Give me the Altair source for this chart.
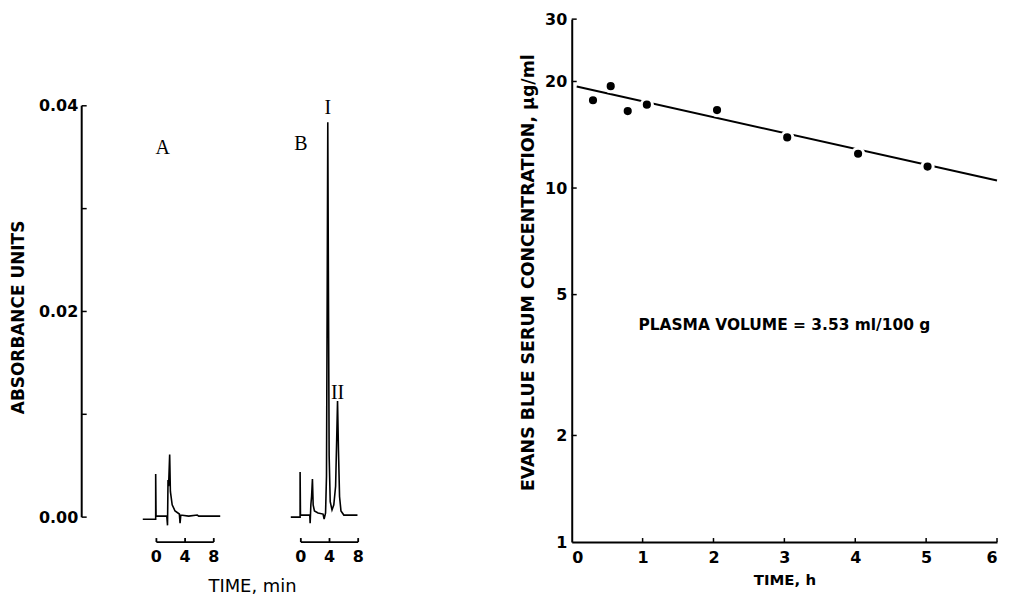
import altair as alt
import pandas as pd

# ---------------- Left panel: chromatograms (time in min, absorbance units) ----------------
tA = [-1.9, -0.1, -0.1, -0.05, 1.45, 1.55, 1.62, 1.7, 1.85, 1.95, 2.2, 2.6, 3.2, 3.3, 3.4, 4.5, 5.7, 5.9, 8.9]
absA = [-0.0002, -0.0002, 0.0042, 0.0001, 0.0001, -0.0008, 0.0036, 0.0030, 0.0061, 0.0025, 0.0012,
        0.0006, 0.0003, -0.0006, 0.0002, 0.0001, 0.0002, 0.0001, 0.0001]
tB = [-1.4, -0.1, -0.1, -0.05, 1.25, 1.3, 1.4, 1.5, 1.62, 1.72, 1.9, 2.4, 3.1, 3.25, 3.45, 3.58, 3.68,
      3.76, 3.84, 3.95, 4.1, 4.35, 4.6, 4.85, 5.0, 5.12, 5.25, 5.4, 5.6, 6.0, 7.9]
absB = [0.0, 0.0, 0.0044, 0.0002, 0.0002, -0.0006, 0.0012, 0.0020, 0.0037, 0.0012, 0.0006, 0.0004,
        0.0003, -0.0002, 0.0004, 0.004, 0.022, 0.0384, 0.024, 0.006, 0.0015, 0.0007, 0.0012, 0.003,
        0.0075, 0.0113, 0.0065, 0.002, 0.0006, 0.0002, 0.0002]
abs_ticks = [0.0, 0.01, 0.02, 0.03, 0.04]
abs_tick_labels = [0.0, 0.02, 0.04]
min_ticks = [0, 4, 8]
peak_text = ["A", "B", "I", "II"]
peak_panel = ["A", "B", "B", "B"]
peak_t = [0.86, 0.0, 3.76, 5.12]
peak_abs = [0.0359, 0.0363, 0.0398, 0.0121]

# ---------------- Right panel: Evans blue serum concentration ----------------
time_h = [0.30, 0.55, 0.79, 1.06, 2.05, 3.04, 4.04, 5.02]
conc = [17.7, 19.4, 16.5, 17.2, 16.6, 13.9, 12.5, 11.5]
fit_t = [0.07, 6.0]
fit_c = [19.35, 10.5]
h_ticks = [0, 1, 2, 3, 4, 5, 6]
c_ticks = [1, 2, 5, 10, 20, 30]
note = "PLASMA  VOLUME = 3.53 ml/100 g"
note_t, note_c = 3.0, 4.1

# ---------------- layout helpers ----------------
FONT = "DejaVu Sans"
SERIF = "Liberation Serif"
LW, LH = 295, 525
PX_MIN = 7.2
PX_ABS = 10325.0
X_MIN = -75 / PX_MIN
X_MAX = X_MIN + LW / PX_MIN
Y_MIN = -25 / PX_ABS
Y_MAX = 0.04 + 87 / PX_ABS
offset = {"A": 0.0, "B": 145 / PX_MIN}
MINI_TICK = 4 / PX_ABS

rows = []
for p, ts, vs in (("A", tA, absA), ("B", tB, absB)):
    for i, (t, v) in enumerate(zip(ts, vs)):
        rows.append({"panel": p, "idx": i, "pos": t + offset[p], "abs": v})
trace_df = pd.DataFrame(rows)

yaxis_df = pd.DataFrame({"abs": [min(abs_ticks)], "abs2": [max(abs_ticks)]})
ytick_df = pd.DataFrame({"abs": abs_ticks})
mini_axis_df = pd.DataFrame({"pos": [min(min_ticks) + offset[p] for p in "AB"],
                             "pos2": [max(min_ticks) + offset[p] for p in "AB"],
                             "abs": [Y_MIN, Y_MIN]})
mini_tick_df = pd.DataFrame({"pos": [t + offset[p] for p in "AB" for t in min_ticks],
                             "lab": [str(t) for p in "AB" for t in min_ticks],
                             "abs": [Y_MIN] * 6, "abs2": [Y_MIN + MINI_TICK] * 6})
peak_df = pd.DataFrame({"pos": [t + offset[p] for t, p in zip(peak_t, peak_panel)],
                        "abs": peak_abs, "txt": peak_text})

xs = alt.Scale(domain=[X_MIN, X_MAX], nice=False, zero=False)
ys = alt.Scale(domain=[Y_MIN, Y_MAX], nice=False, zero=False)
xaxis = alt.Axis(labels=False, ticks=False, domain=False, grid=False, title="TIME, min",
                 titleFontWeight="normal", titleFontSize=18, titleX=171, titleY=45,
                 titleBaseline="middle")
yaxis = alt.Axis(values=abs_tick_labels, format=".2f", domain=False, ticks=False, grid=False,
                 labelPadding=4, labelFontSize=16, title="ABSORBANCE UNITS", titleFontSize=17,
                 titlePadding=11, titleY=299)
X = alt.X("pos:Q", scale=xs, axis=xaxis)
Y = alt.Y("abs:Q", scale=ys, axis=yaxis)

trace = alt.Chart(trace_df).mark_line(color="black", strokeWidth=1.6).encode(
    x=X, y=Y, detail="panel:N", order="idx:Q")
yline = alt.Chart(yaxis_df).mark_rule(color="black", strokeWidth=2).encode(
    x=alt.value(0), y=Y, y2="abs2:Q")
yticks = alt.Chart(ytick_df).mark_rule(color="black", strokeWidth=1.5).encode(
    y=Y, x=alt.value(0), x2=alt.value(5))
mline = alt.Chart(mini_axis_df).mark_rule(color="black", strokeWidth=1.8).encode(
    x=X, x2="pos2:Q", y=Y)
mticks = alt.Chart(mini_tick_df).mark_rule(color="black", strokeWidth=1.8).encode(
    x=X, y=Y, y2="abs2:Q")
mlabels = alt.Chart(mini_tick_df).mark_text(font=FONT, fontSize=16, fontWeight="bold",
                                            dy=15, color="black").encode(x=X, y=Y, text="lab:N")
plabels = alt.Chart(peak_df).mark_text(font=SERIF, fontSize=20, color="black").encode(
    x=X, y=Y, text="txt:N")

left = alt.layer(trace, yline, yticks, mline, mticks, mlabels, plabels).properties(
    width=LW, height=LH)

# ---------------- right chart ----------------
RW, RH = 427, 525
pts_df = pd.DataFrame({"t": time_h, "c": conc})
fit_df = pd.DataFrame({"t": fit_t, "c": fit_c})
cticks_df = pd.DataFrame({"c": [c for c in c_ticks if c > min(c_ticks)]})
hticks_df = pd.DataFrame({"t": [t for t in h_ticks if t > min(h_ticks)],
                          "c": [min(c_ticks)] * (len(h_ticks) - 1),
                          "c2": [min(c_ticks) * 10 ** (4 / 355)] * (len(h_ticks) - 1)})
note_df = pd.DataFrame({"t": [note_t], "c": [note_c], "txt": [note]})

rxs = alt.Scale(domain=[min(h_ticks), max(h_ticks)], nice=False, zero=False)
rys = alt.Scale(type="log", domain=[min(c_ticks), max(c_ticks)], nice=False)
rxaxis = alt.Axis(values=h_ticks, ticks=False, grid=False, domainWidth=2, labelPadding=8,
                  labelFontSize=16, title="TIME, h", titleFontSize=15, titlePadding=7)
ryaxis = alt.Axis(values=c_ticks, format="d", ticks=False, grid=False, domainWidth=2,
                  labelPadding=5, labelFontSize=16,
                  title="EVANS BLUE SERUM CONCENTRATION, \u00b5g/ml", titleFontSize=17.5,
                  titlePadding=7, titleY=254)
RX = alt.X("t:Q", scale=rxs, axis=rxaxis)
RY = alt.Y("c:Q", scale=rys, axis=ryaxis)

fit = alt.Chart(fit_df).mark_line(color="black", strokeWidth=2).encode(x=RX, y=RY)
pts = alt.Chart(pts_df).mark_point(filled=True, fill="black", stroke="white", strokeWidth=3,
                                   size=125, opacity=1).encode(x=RX, y=RY)
rcticks = alt.Chart(cticks_df).mark_rule(color="black", strokeWidth=1.5).encode(
    y=RY, x=alt.value(0), x2=alt.value(5))
rhticks = alt.Chart(hticks_df).mark_rule(color="black", strokeWidth=1.5).encode(
    x=RX, y=RY, y2="c2:Q")
rnote = alt.Chart(note_df).mark_text(font=FONT, fontSize=15.5, fontWeight="bold",
                                     color="black").encode(x=RX, y=RY, text="txt:N")

right = alt.layer(fit, pts, rcticks, rhticks, rnote).properties(width=RW, height=RH)

chart = alt.hconcat(left, right, spacing=197, bounds="flush").properties(
    padding={"left": 1, "top": 2, "right": 0, "bottom": 0}).configure_view(
    stroke=None).configure_axis(
    labelFont=FONT, titleFont=FONT, labelFontWeight="bold", titleFontWeight="bold",
    labelColor="black", titleColor="black", domainColor="black")

chart.save("out.html", embed_options={"renderer": "svg", "actions": False})
